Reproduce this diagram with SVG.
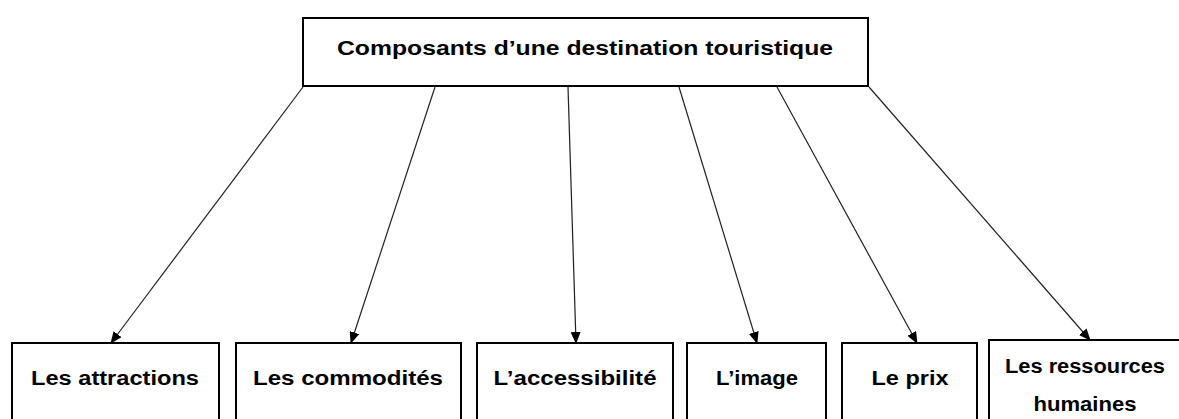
<svg xmlns="http://www.w3.org/2000/svg" width="1179" height="419" viewBox="0 0 1179 419">
<defs>
<marker id="ah" markerWidth="12" markerHeight="10" refX="11" refY="5" orient="auto" markerUnits="userSpaceOnUse">
<path d="M0,0 L12,5 L0,10 Z" fill="#000"/>
</marker>
<style>
.box{fill:#fff;stroke:#000;stroke-width:2}
.t{font-family:"Liberation Sans",Arial,sans-serif;font-weight:bold;font-size:20px;fill:#000;text-anchor:middle}
.c{stroke:#222;stroke-width:1.2;fill:none;marker-end:url(#ah)}
</style>
</defs>
<rect width="1179" height="419" fill="#fff"/>
<g id="connectors">
<line class="c" x1="303" y1="87" x2="111" y2="343"/>
<line class="c" x1="435" y1="87" x2="351" y2="343"/>
<line class="c" x1="568" y1="87" x2="576" y2="343"/>
<line class="c" x1="679" y1="87" x2="757" y2="343"/>
<line class="c" x1="777" y1="87" x2="917" y2="343"/>
<line class="c" x1="869" y1="87" x2="1090" y2="340"/>
</g>
<g id="root">
<rect class="box" x="303" y="18" width="565" height="68"/>
<text class="t" x="585" y="55" textLength="496" lengthAdjust="spacingAndGlyphs">Composants d’une destination touristique</text>
</g>
<g id="n1">
<rect class="box" x="12" y="343" width="207" height="90"/>
<text class="t" x="115" y="385" textLength="168" lengthAdjust="spacingAndGlyphs">Les attractions</text>
</g>
<g id="n2">
<rect class="box" x="236" y="343" width="225" height="90"/>
<text class="t" x="348" y="385" textLength="190" lengthAdjust="spacingAndGlyphs">Les commodités</text>
</g>
<g id="n3">
<rect class="box" x="477" y="343" width="196" height="90"/>
<text class="t" x="575" y="385" textLength="163" lengthAdjust="spacingAndGlyphs">L’accessibilité</text>
</g>
<g id="n4">
<rect class="box" x="687" y="343" width="139" height="90"/>
<text class="t" x="757" y="385" textLength="82" lengthAdjust="spacingAndGlyphs">L’image</text>
</g>
<g id="n5">
<rect class="box" x="842" y="343" width="135" height="90"/>
<text class="t" x="910" y="385" textLength="77" lengthAdjust="spacingAndGlyphs">Le prix</text>
</g>
<g id="n6">
<rect class="box" x="989" y="340" width="200" height="90"/>
<text class="t" x="1085" y="373" textLength="160" lengthAdjust="spacingAndGlyphs">Les ressources</text>
<text class="t" x="1085" y="411" textLength="103" lengthAdjust="spacingAndGlyphs">humaines</text>
</g>
</svg>
